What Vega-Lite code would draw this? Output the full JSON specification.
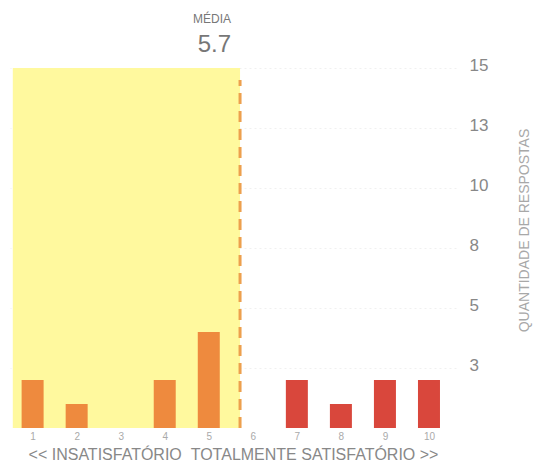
{
  "$schema": "https://vega.github.io/schema/vega-lite/v6.json",
  "width": 446,
  "height": 360,
  "autosize": "none",
  "padding": {"left": 10, "top": 68, "right": 88, "bottom": 44},
  "background": "white",
  "config": {
    "view": {"stroke": null},
    "font": "Liberation Sans"
  },
  "datasets": {
    "bars": [
      {"nota": 1, "respostas": 2, "grupo": "insatisfeito"},
      {"nota": 2, "respostas": 1, "grupo": "insatisfeito"},
      {"nota": 3, "respostas": 0, "grupo": "insatisfeito"},
      {"nota": 4, "respostas": 2, "grupo": "insatisfeito"},
      {"nota": 5, "respostas": 4, "grupo": "insatisfeito"},
      {"nota": 6, "respostas": 0, "grupo": "satisfeito"},
      {"nota": 7, "respostas": 2, "grupo": "satisfeito"},
      {"nota": 8, "respostas": 1, "grupo": "satisfeito"},
      {"nota": 9, "respostas": 2, "grupo": "satisfeito"},
      {"nota": 10, "respostas": 2, "grupo": "satisfeito"}
    ],
    "zona": [{"x0": 0.55, "x1": 5.71, "y0": 0, "y1": 15}],
    "media": [{"media": 5.71, "y0": 0, "y1": 14.5}],
    "rotulos": [
      {"media": 5.71, "nivel": 16.875, "texto": "MÉDIA", "tipo": "titulo"},
      {"media": 5.71, "nivel": 15.67, "texto": "5.7", "tipo": "valor"}
    ]
  },
  "layer": [
    {
      "data": {"name": "zona"},
      "mark": {"type": "rect", "color": "#FFF99E", "clip": false},
      "encoding": {
        "x": {"field": "x0", "type": "quantitative", "scale": {"domain": [0.6, 10.5], "nice": false, "zero": false},
          "axis": {"values": [1,2,3,4,5,6,7,8,9,10], "title": "<< INSATISFATÓRIO \u00a0TOTALMENTE SATISFATÓRIO >>",
            "grid": false, "domain": false, "ticks": false, "labelColor": "#aaaaaa", "labelFontSize": 10, "labelPadding": 3,
            "titleColor": "#888888", "titleFontSize": 16, "titleFontWeight": "normal", "titlePadding": 5}},
        "x2": {"field": "x1"},
        "y": {"field": "y0", "type": "quantitative", "scale": {"domain": [0, 15], "nice": false},
          "axis": {"orient": "right", "values": [2.5, 5, 7.5, 10, 12.5, 15], "format": ".0f", "domain": false, "ticks": false,
            "grid": true, "gridColor": "#e6e6e6", "gridDash": [2, 3], "gridOpacity": 0.6,
            "labelColor": "#888888", "labelFontSize": 17, "labelPadding": 13, "labelBaseline": "middle", "labelOffset": -3,
            "title": "QUANTIDADE DE RESPOSTAS", "titleAngle": 270, "titleFontSize": 14, "titleFontWeight": "normal",
            "titleColor": "#a8a8a8", "titleX": 68, "titleY": 162, "titleAlign": "center", "titleBaseline": "middle"}},
        "y2": {"field": "y1"}
      }
    },
    {
      "data": {"name": "bars"},
      "mark": {"type": "bar", "size": 22},
      "encoding": {
        "x": {"field": "nota", "type": "quantitative"},
        "y": {"field": "respostas", "type": "quantitative"},
        "color": {"field": "grupo", "type": "nominal", "legend": null,
          "scale": {"domain": ["insatisfeito", "satisfeito"], "range": ["#EE8A3E", "#D9473C"]}}
      }
    },
    {
      "data": {"name": "media"},
      "mark": {"type": "rule", "color": "#EDA04E", "strokeWidth": 3, "strokeDash": [11, 7]},
      "encoding": {
        "x": {"field": "media", "type": "quantitative"},
        "y": {"field": "y0", "type": "quantitative"},
        "y2": {"field": "y1"}
      }
    },
    {
      "data": {"name": "rotulos"},
      "mark": {"type": "text", "align": "right", "baseline": "alphabetic", "clip": false, "color": "#777777", "dx": -9},
      "encoding": {
        "x": {"field": "media", "type": "quantitative"},
        "y": {"field": "nivel", "type": "quantitative"},
        "text": {"field": "texto"},
        "size": {"field": "tipo", "type": "nominal", "legend": null,
          "scale": {"domain": ["titulo", "valor"], "range": [12, 24]}}
      }
    }
  ]
}
